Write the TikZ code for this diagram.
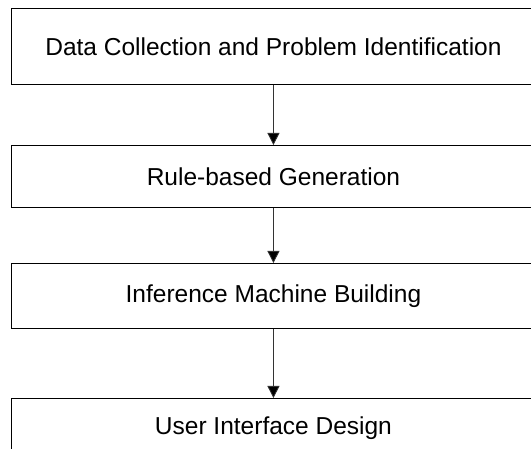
\documentclass[tikz,border=0pt]{standalone}
\usepackage{fontspec}
\setmainfont{Liberation Sans}
\usetikzlibrary{arrows.meta}
\begin{document}
\begin{tikzpicture}[x=1pt,y=1pt,
  stepbox/.style={draw=black,line width=0.9pt,fill=white,rectangle,minimum width=524pt,inner sep=0pt,
    font=\fontsize{24.5pt}{29pt}\selectfont,anchor=north west},
  flow/.style={draw=black!80,line width=0.8pt,-{Triangle[length=12pt,width=12pt,fill=black]}}]
\useasboundingbox (0,0) rectangle (531,-449);
\clip (0,0) rectangle (531,-449);
\fill[white] (0,0) rectangle (531,-449);
\node[stepbox,minimum height=76pt] (b1) at (11,-8) {Data Collection and Problem Identification};
\node[stepbox,minimum height=62pt] (b2) at (11,-145) {Rule-based Generation};
\node[stepbox,minimum height=65pt] (b3) at (11,-263) {Inference Machine Building};
\node[stepbox,minimum height=60pt] (b4) at (11,-398) {User Interface Design};
\draw[flow] (b1.south) -- (b2.north);
\draw[flow] (b2.south) -- (b3.north);
\draw[flow] (b3.south) -- (b4.north);
\end{tikzpicture}
\end{document}
